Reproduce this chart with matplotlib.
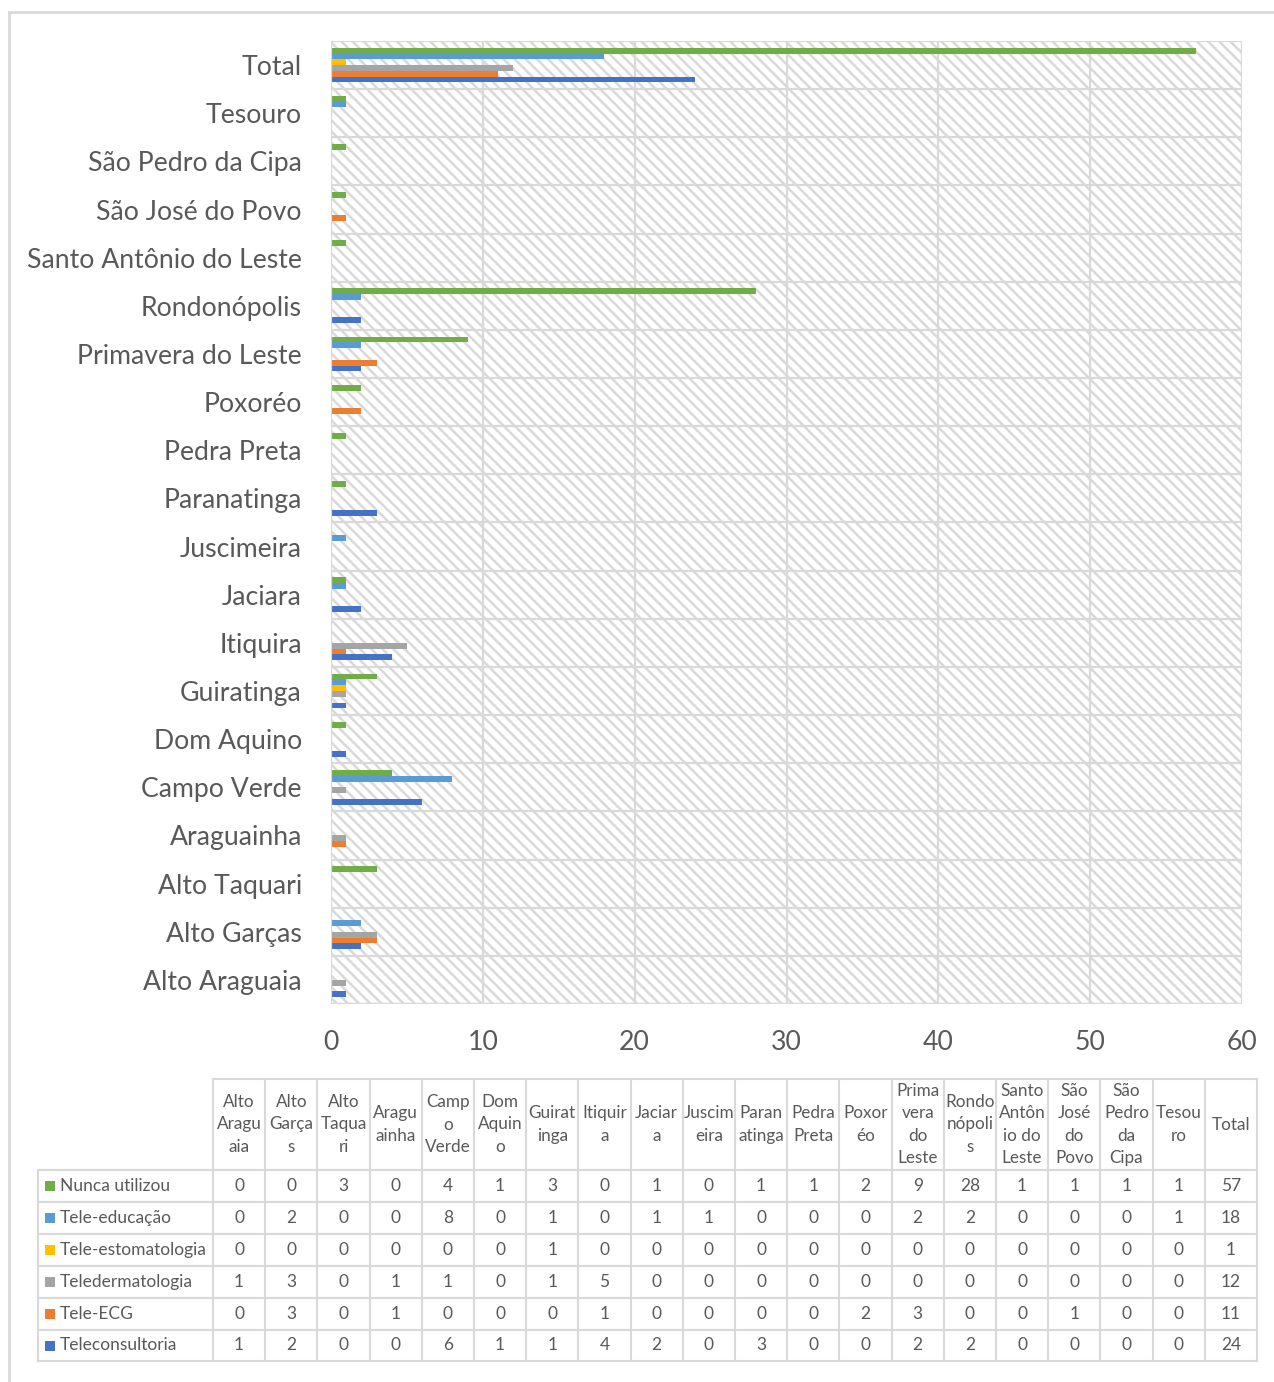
import numpy as np
import matplotlib
matplotlib.use('Agg')
import matplotlib.pyplot as plt
from matplotlib.lines import Line2D
from matplotlib.patches import Rectangle

# 数据
categories = ['Alto Araguaia', 'Alto Garças', 'Alto Taquari', 'Araguainha', 'Campo Verde',
              'Dom Aquino', 'Guiratinga', 'Itiquira', 'Jaciara', 'Juscimeira', 'Paranatinga',
              'Pedra Preta', 'Poxoréo', 'Primavera do Leste', 'Rondonópolis',
              'Santo Antônio do Leste', 'São José do Povo', 'São Pedro da Cipa', 'Tesouro', 'Total']
header_labels = ['Alto\nAragu\naia', 'Alto\nGarça\ns', 'Alto\nTaqua\nri', 'Aragu\nainha',
                 'Camp\no\nVerde', 'Dom\nAquin\no', 'Guirat\ninga', 'Itiquir\na', 'Jaciar\na',
                 'Juscim\neira', 'Paran\natinga', 'Pedra\nPreta', 'Poxor\néo',
                 'Prima\nvera\ndo\nLeste', 'Rondo\nnópoli\ns', 'Santo\nAntôn\nio do\nLeste',
                 'São\nJosé\ndo\nPovo', 'São\nPedro\nda\nCipa', 'Tesou\nro', 'Total']

series_names = ['Nunca utilizou', 'Tele-educação', 'Tele-estomatologia',
                'Teledermatologia', 'Tele-ECG', 'Teleconsultoria']
nunca = [0, 0, 3, 0, 4, 1, 3, 0, 1, 0, 1, 1, 2, 9, 28, 1, 1, 1, 1, 57]
educacao = [0, 2, 0, 0, 8, 0, 1, 0, 1, 1, 0, 0, 0, 2, 2, 0, 0, 0, 1, 18]
estomatologia = [0, 0, 0, 0, 0, 0, 1, 0, 0, 0, 0, 0, 0, 0, 0, 0, 0, 0, 0, 1]
dermatologia = [1, 3, 0, 1, 1, 0, 1, 5, 0, 0, 0, 0, 0, 0, 0, 0, 0, 0, 0, 12]
ecg = [0, 3, 0, 1, 0, 0, 0, 1, 0, 0, 0, 0, 2, 3, 0, 0, 1, 0, 0, 11]
consultoria = [1, 2, 0, 0, 6, 1, 1, 4, 2, 0, 3, 0, 0, 2, 2, 0, 0, 0, 0, 24]
series_values = [nunca, educacao, estomatologia, dermatologia, ecg, consultoria]
colors = ['#70AD47', '#5B9BD5', '#FFC000', '#A5A5A5', '#ED7D31', '#4472C4']

plt.rcParams['font.family'] = ['Lato', 'DejaVu Sans']
plt.rcParams['hatch.color'] = '#e4e4e4'
plt.rcParams['hatch.linewidth'] = 1.8

W, H = 1274, 1382
fig = plt.figure(figsize=(W / 100, H / 100), dpi=100)
text_color = '#595959'
grid_color = '#d9d9d9'


def fx(px):
    return px / W


def fy(py):
    return 1 - py / H


# 外框
fig.add_artist(Line2D([fx(9), fx(1290)], [fy(12), fy(12)], color=grid_color, lw=2))
fig.add_artist(Line2D([fx(9), fx(9)], [fy(12), fy(1400)], color=grid_color, lw=2))

# 图表区
ax = fig.add_axes([fx(331), fy(1004), fx(1242) - fx(331), fy(41) - fy(1004)])
n = len(categories)
y = np.arange(n)
bar_h = 0.12
ax.add_patch(Rectangle((0, -0.5), 60, n, facecolor='white', hatch='\\\\\\',
                       edgecolor=grid_color, lw=0, zorder=0))
for i, (name, vals, c) in enumerate(zip(series_names, series_values, colors)):
    offset = (2.5 - i) * bar_h
    ax.barh(y + offset, vals, height=bar_h, color=c, zorder=3, label=name)

ax.set_xlim(0, 60)
ax.set_ylim(-0.5, n - 0.5)
ax.set_xticks(range(0, 61, 10))
ax.set_yticks(y)
ax.set_yticklabels(categories)
ax.tick_params(axis='both', length=0, labelsize=19.2, colors=text_color)
ax.tick_params(axis='x', pad=19)
ax.tick_params(axis='y', pad=21)
for xv in range(10, 61, 10):
    ax.axvline(xv, color=grid_color, lw=1.6, zorder=1)
for yv in np.arange(-0.5, n, 1.0):
    ax.axhline(yv, color=grid_color, lw=1.6, zorder=1)
for s in ax.spines.values():
    s.set_visible(False)
ax.axvline(0, color=grid_color, lw=1.6, zorder=4)
ax.axhline(-0.5, color=grid_color, lw=1.6, zorder=4)

# 数据表
col_x0 = 213
col_w = (1257 - 213) / n
rows_y = [1079, 1170, 1202, 1234, 1266, 1298, 1330, 1361]
leg_x0 = 38
lw_t = 1.5
# 横线
fig.add_artist(Line2D([fx(col_x0), fx(1257)], [fy(rows_y[0])] * 2, color=grid_color, lw=lw_t))
for ry in rows_y[1:]:
    fig.add_artist(Line2D([fx(leg_x0), fx(1257)], [fy(ry)] * 2, color=grid_color, lw=lw_t))
# 竖线
fig.add_artist(Line2D([fx(leg_x0)] * 2, [fy(rows_y[1]), fy(rows_y[-1])], color=grid_color, lw=lw_t))
for j in range(n + 1):
    xx = col_x0 + j * col_w
    fig.add_artist(Line2D([fx(xx)] * 2, [fy(rows_y[0]), fy(rows_y[-1])], color=grid_color, lw=lw_t))

# 表头
for j, lab in enumerate(header_labels):
    cx = col_x0 + (j + 0.5) * col_w
    cy = (rows_y[0] + rows_y[1]) / 2
    fig.text(fx(cx), fy(cy), lab, ha='center', va='center', fontsize=12.3,
             color=text_color, linespacing=1.5)

# 表格内容
for i, (name, vals, c) in enumerate(zip(series_names, series_values, colors)):
    cy = (rows_y[i + 1] + rows_y[i + 2]) / 2
    fig.add_artist(Rectangle((fx(45), fy(cy + 5)), fx(10), fy(0) - fy(10),
                             facecolor=c, edgecolor='none'))
    fig.text(fx(60), fy(cy), name, ha='left', va='center', fontsize=12.5, color=text_color)
    for j, v in enumerate(vals):
        cx = col_x0 + (j + 0.5) * col_w
        fig.text(fx(cx), fy(cy), str(v), ha='center', va='center', fontsize=12.5,
                 color=text_color)

fig.savefig('out.png', dpi=100)
